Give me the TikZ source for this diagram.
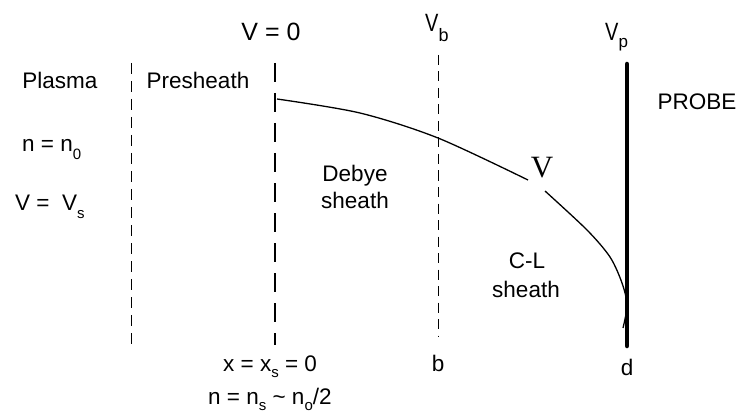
\documentclass[tikz,border=0pt]{standalone}
\usepackage{fontspec}
\setmainfont{Liberation Sans}
\newfontfamily\seriffont{Liberation Serif}
\newcommand\lsub[3]{\raisebox{-#2pt}{\fontsize{#1}{#1}\selectfont #3}}
\newcommand\narrowV{\scalebox{0.8}[1]{V}}
\begin{document}
\begin{tikzpicture}[x=1pt,y=-1pt,
  txt/.style={inner sep=0pt, font=\fontsize{22.5}{27}\selectfont},
  big/.style={inner sep=0pt, font=\fontsize{25}{30}\selectfont},
  thindash/.style={line width=1pt, dash pattern=on 11pt off 7pt},
  thickdash/.style={line width=2.2pt, dash pattern=on 19pt off 11pt},
  probeline/.style={line width=4.5pt, line cap=round},
  curveline/.style={line width=1.3pt}]
\useasboundingbox (0,0) rectangle (738,414);
\fill[white] (0,0) rectangle (738,414);
% boundary lines
\coordinate (a1) at (131,63); \coordinate (a2) at (131,345);
\coordinate (s1) at (275,63); \coordinate (s2) at (275,345);
\coordinate (b1) at (438,55); \coordinate (b2) at (438,337);
\coordinate (p1) at (627,64); \coordinate (p2) at (627,346);
\draw[thindash] (a1) -- (a2);
\draw[thickdash] (s1) -- (s2);
\draw[line width=1pt, dash pattern=on 10pt off 6.5pt] (b1) -- (b2);
\draw[probeline] (p1) -- (p2);
% potential curve
\draw[curveline] plot[smooth] coordinates {(277,99) (360,113) (438,138) (528,180)};
\draw[curveline] plot[smooth] coordinates {(545,191) (587,230) (610,257) (622,283) (627,305) (623,328)};
% labels
\node[big, anchor=base] (v0) at (271,41) {V = 0};
\node[big, anchor=base west] (vb) at (425,32) {\narrowV\lsub{18}{10}{b}};
\node[big, anchor=base west] (vp) at (605,41) {\narrowV\lsub{17}{7}{p}};
\node[txt, anchor=base] (plasma) at (60,89) {Plasma};
\node[txt, anchor=base] (presheath) at (198,89) {Presheath};
\node[txt, anchor=base] (probe) at (697,110) {PROBE};
\node[txt, anchor=base west] (n0) at (22,152) {n = n\lsub{15}{8}{0}};
\node[txt, anchor=base west] (vs) at (15,210) {V = \ V\lsub{15}{8}{s}};
\node[txt, anchor=base] (debye1) at (355,182) {Debye};
\node[txt, anchor=base] (debye2) at (355,208) {sheath};
\node[inner sep=0pt, anchor=base, font=\seriffont\fontsize{31}{36}\selectfont] (vlab) at (542,178) {V};
\node[txt, anchor=base] (cl1) at (527,268) {C-L};
\node[txt, anchor=base] (cl2) at (526,297) {sheath};
\node[txt, anchor=base west] (xs) at (223,371) {x = x\lsub{15}{6}{s} = 0};
\node[txt, anchor=base west] (ns) at (208,404) {n = n\lsub{15}{6}{s} \textasciitilde\ n\lsub{15}{6}{o}/2};
\node[txt, anchor=base] (blab) at (438,371) {b};
\node[txt, anchor=base] (dlab) at (627,375) {d};
\end{tikzpicture}
\end{document}
